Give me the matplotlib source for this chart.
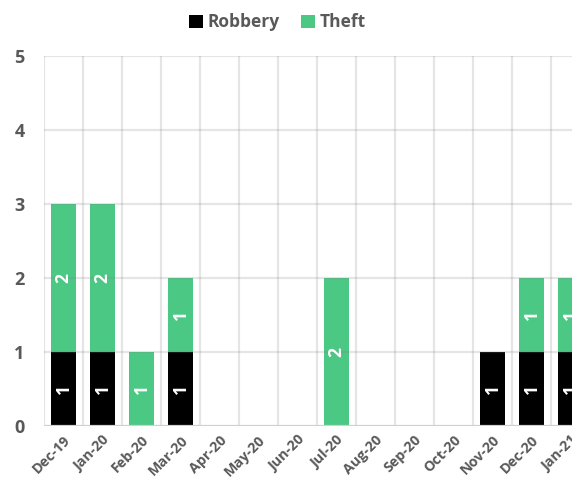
import matplotlib.pyplot as plt
import numpy as np

months = ['Dec-19', 'Jan-20', 'Feb-20', 'Mar-20', 'Apr-20', 'May-20', 'Jun-20',
          'Jul-20', 'Aug-20', 'Sep-20', 'Oct-20', 'Nov-20', 'Dec-20', 'Jan-21']
robbery = [1, 1, 0, 1, 0, 0, 0, 0, 0, 0, 0, 1, 1, 1]
theft = [2, 2, 1, 1, 0, 0, 0, 2, 0, 0, 0, 0, 1, 1]

plt.rcParams['font.family'] = ['Open Sans', 'DejaVu Sans']

fig = plt.figure(figsize=(5.72, 4.84), dpi=100)
ax = fig.add_axes([0.0769, 0.1198, 0.9545, 0.7645])

x = np.arange(len(months))
w = 0.65
c_rob = '#000000'
c_theft = '#4cc885'
ax.bar(x, robbery, w, color=c_rob, label='Robbery', zorder=1)
ax.bar(x, theft, w, bottom=robbery, color=c_theft, label='Theft', zorder=1)

# value labels inside the segments
for i in x:
    if robbery[i]:
        ax.text(i, robbery[i] / 2, str(robbery[i]), rotation=90, ha='center', va='center',
                color='white', fontsize=12.5, fontweight='bold', zorder=3)
    if theft[i]:
        ax.text(i, robbery[i] + theft[i] / 2, str(theft[i]), rotation=90, ha='center',
                va='center', color='white', fontsize=12.5, fontweight='bold', zorder=3)

# grid drawn over the bars
for yv in range(1, 6):
    ax.axhline(yv, color='#808080', alpha=0.2, lw=1.6, zorder=2)
for xv in np.arange(-0.5, len(months), 1):
    ax.axvline(xv, color='#808080', alpha=0.2, lw=1.6, zorder=2)
ax.axhline(0, color='#d0d0d0', lw=1.6, zorder=2)

ax.set_xlim(-0.5, len(months) - 0.5)
ax.set_ylim(0, 5)
ax.set_yticks(range(6))
ax.set_xticks(x)
ax.set_xticklabels(months, rotation=45, ha='right', rotation_mode='anchor')
for lab in ax.get_xticklabels():
    lab.set_fontsize(10.3)
    lab.set_fontweight('bold')
    lab.set_color('#595959')
for lab in ax.get_yticklabels():
    lab.set_fontsize(13)
    lab.set_fontweight('bold')
    lab.set_color('#595959')
ax.tick_params(axis='y', length=0, pad=14)
ax.tick_params(axis='x', length=0, pad=5)
for s in ax.spines.values():
    s.set_visible(False)

leg = fig.legend(loc='upper center', bbox_to_anchor=(0.485, 1.005), ncol=2, frameon=False,
                 handlelength=0.8, handleheight=0.8, handletextpad=0.3, columnspacing=1.2,
                 prop={'weight': 'bold', 'size': 12.5})
for t in leg.get_texts():
    t.set_color('#595959')

fig.savefig('out.png', dpi=100)
